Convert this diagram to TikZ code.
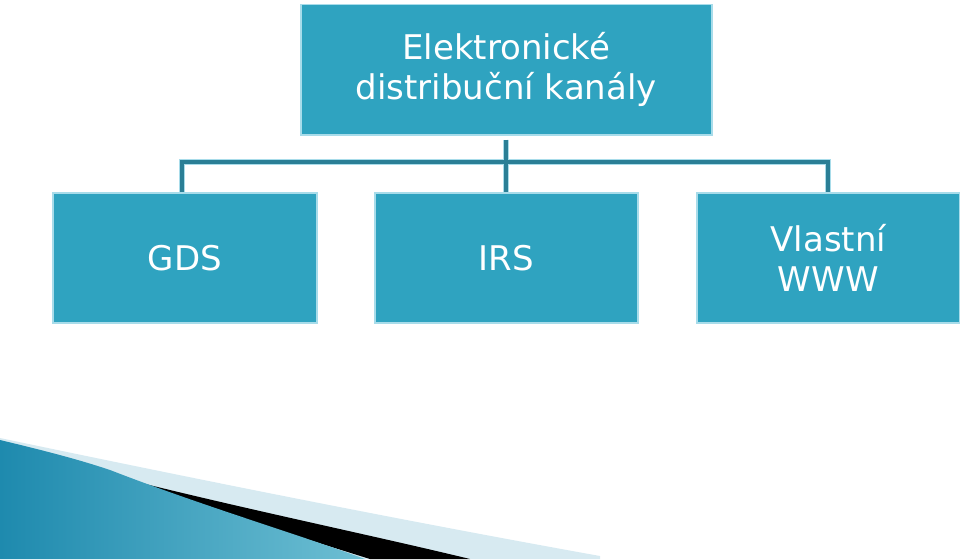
\documentclass[tikz,border=0pt]{standalone}
\usepackage{fontspec}
\setmainfont{DejaVu Sans}
\definecolor{boxfill}{HTML}{2FA3C0}
\definecolor{boxedge}{HTML}{A8DCEA}
\definecolor{linedark}{HTML}{2A7F96}
\definecolor{bandlight}{HTML}{D7EAF1}
\definecolor{bandblue}{HTML}{1E8AAE}
\begin{document}
\begin{tikzpicture}[x=1pt,y=-1pt,
  boxnode/.style={draw=boxedge,line width=1.5pt,fill=boxfill,text=white,align=center,inner sep=0pt,font=\fontsize{34}{40}\selectfont,anchor=north west},
  conn/.style={line width=4pt,draw=linedark}]
\useasboundingbox (0,0) rectangle (960,559);
% decoration
\fill[bandlight] (0,438) .. controls (200,480) and (400,520) .. (600,556) -- (600,559) -- (0,559) -- cycle;
\fill[black] (60,462) .. controls (200,500) and (350,530) .. (470,559) -- (370,559) -- cycle;
\shade[left color=bandblue,right color=boxfill!70!white] (0,440) .. controls (50,452) and (80,460) .. (110,470) .. controls (200,505) and (300,535) .. (365,559) -- (0,559) -- cycle;
% boxes
\node[boxnode,minimum width=411pt,minimum height=130pt] (top) at (300,4) {Elektronické\\distribuční kanály};
\node[boxnode,minimum width=264pt,minimum height=130pt] (gds) at (52,192) {GDS};
\node[boxnode,minimum width=263pt,minimum height=130pt] (irs) at (374,192) {IRS};
\node[boxnode,minimum width=263pt,minimum height=130pt] (www) at (696,192) {Vlastní\\WWW};
\coordinate (j) at (505,162);
\coordinate (jl) at (182,162);
\coordinate (jr) at (828,162);
\draw[conn,draw=boxedge,line width=6pt] (top.south) ++(0,4) -- (irs.north);
\draw[conn,draw=boxedge,line width=6pt] (gds.north -| jl) -- (jl) -- (jr) -- (www.north -| jr);
\draw[conn] (top.south) ++(0,4) -- (irs.north);
\draw[conn] (gds.north -| jl) -- (jl) -- (jr) -- (www.north -| jr);
\end{tikzpicture}
\end{document}
